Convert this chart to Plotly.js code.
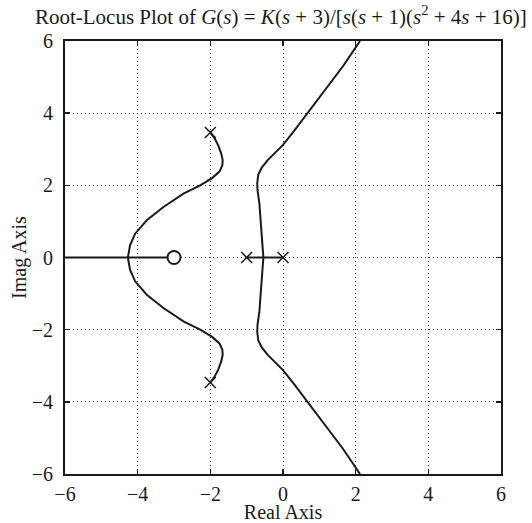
<!DOCTYPE html>
<html>
<head>
<meta charset="utf-8">
<script src="https://cdn.plot.ly/plotly-3.0.1.min.js"></script>
<style>html,body{margin:0;padding:0;background:#fff;}#chart{width:532px;height:523px;}</style>
</head>
<body>
<div id="chart"></div>
<script>
// Branch from upper complex pole to break-in point on the real axis
const upperLeftRe = [-2.0, -1.88, -1.78, -1.70, -1.66, -1.67, -1.75, -1.95, -2.28, -2.74, -3.29, -3.75, -4.07, -4.21, -4.27];
const upperLeftIm = [3.46, 3.30, 3.10, 2.88, 2.70, 2.55, 2.38, 2.20, 2.00, 1.77, 1.40, 1.03, 0.66, 0.34, 0.0];
// Branch from lower complex pole to break-in point
const lowerLeftRe = [-2.0, -1.88, -1.78, -1.70, -1.66, -1.67, -1.75, -1.95, -2.28, -2.74, -3.29, -3.75, -4.07, -4.21, -4.27];
const lowerLeftIm = [-3.46, -3.30, -3.10, -2.88, -2.70, -2.55, -2.38, -2.20, -2.00, -1.77, -1.40, -1.03, -0.66, -0.34, 0.0];
// Branch from breakaway point going up to asymptote
const upperRightRe = [-0.54, -0.57, -0.60, -0.65, -0.70, -0.71, -0.68, -0.58, -0.42, -0.22, 0.0, 0.30, 0.60, 0.95, 1.30, 1.65, 2.12];
const upperRightIm = [0.0, 0.50, 1.00, 1.50, 1.85, 2.05, 2.30, 2.50, 2.70, 2.90, 3.12, 3.50, 3.90, 4.35, 4.82, 5.30, 6.00];
// Branch from breakaway point going down to asymptote
const lowerRightRe = [-0.54, -0.57, -0.60, -0.65, -0.70, -0.71, -0.68, -0.58, -0.42, -0.22, 0.0, 0.30, 0.60, 0.95, 1.30, 1.65, 2.12];
const lowerRightIm = [0.0, -0.50, -1.00, -1.50, -1.85, -2.05, -2.30, -2.50, -2.70, -2.90, -3.12, -3.50, -3.90, -4.35, -4.82, -5.30, -6.00];
// Real-axis segments of the locus
const realSegLeftRe = [-6, -3];
const realSegLeftIm = [0, 0];
const realSegRightRe = [-1, 0];
const realSegRightIm = [0, 0];
// Open-loop poles and zeros
const polesRe = [0, -1, -2, -2];
const polesIm = [0, 0, 3.464, -3.464];
const zerosRe = [-3];
const zerosIm = [0];
const tickVals = [-6, -4, -2, 0, 2, 4, 6];

const lineStyle = {color: '#1a1a1a', width: 2};
const mk = (x, y) => ({x: x, y: y, type: 'scatter', mode: 'lines', line: lineStyle, hoverinfo: 'skip', showlegend: false});

const data = [
  mk(upperLeftRe, upperLeftIm),
  mk(lowerLeftRe, lowerLeftIm),
  mk(upperRightRe, upperRightIm),
  mk(lowerRightRe, lowerRightIm),
  mk(realSegLeftRe, realSegLeftIm),
  mk(realSegRightRe, realSegRightIm),
  {x: polesRe, y: polesIm, type: 'scatter', mode: 'markers', showlegend: false,
   marker: {symbol: 'x-thin', size: 11, line: {color: '#1a1a1a', width: 1.5}}},
  {x: zerosRe, y: zerosIm, type: 'scatter', mode: 'markers', showlegend: false,
   marker: {symbol: 'circle', size: 13, color: '#ffffff', line: {color: '#1a1a1a', width: 2}}}
];

const FONT = 'Liberation Serif';
const axisCommon = {
  range: [-6, 6],
  tickvals: tickVals,
  ticks: 'inside',
  ticklen: 5,
  tickwidth: 1.5,
  tickcolor: '#1a1a1a',
  showline: true,
  linecolor: '#1a1a1a',
  linewidth: 2,
  mirror: 'ticks',
  showgrid: true,
  gridcolor: '#333',
  gridwidth: 1,
  griddash: '1px,3px',
  zeroline: false,
  tickfont: {family: FONT, size: 20, color: '#1a1a1a'},
  fixedrange: true
};

const layout = {
  width: 532,
  height: 523,
  margin: {l: 65, r: 31, t: 41, b: 49},
  paper_bgcolor: '#ffffff',
  plot_bgcolor: '#ffffff',
  font: {family: FONT, color: '#1a1a1a'},
  title: {
    text: 'Root-Locus Plot of <i>G</i>(<i>s</i>) = <i>K</i>(<i>s</i> + 3)/[<i>s</i>(<i>s</i> + 1)(<i>s</i><sup>2</sup> + 4<i>s</i> + 16)]',
    font: {family: FONT, size: 21, color: '#1a1a1a'},
    x: 0.528, xref: 'container', xanchor: 'center',
    y: 0.968, yref: 'container', yanchor: 'middle'
  },
  xaxis: Object.assign({}, axisCommon, {
    title: {text: 'Real Axis', font: {family: FONT, size: 20, color: '#1a1a1a'}, standoff: 0},
    ticklabelstandoff: 1
  }),
  yaxis: Object.assign({}, axisCommon, {
    title: {text: 'Imag Axis', font: {family: FONT, size: 20, color: '#1a1a1a'}, standoff: 0},
    ticklabelstandoff: 6
  })
};

Plotly.newPlot('chart', data, layout, {displayModeBar: false, staticPlot: true});
</script>
</body>
</html>
